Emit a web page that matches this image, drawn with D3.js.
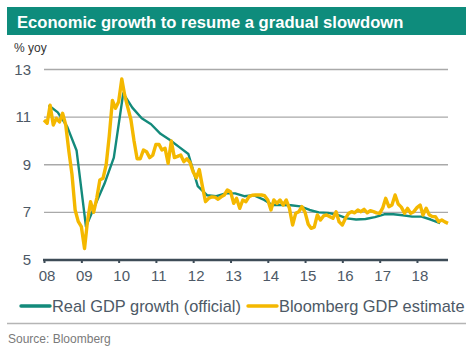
<!DOCTYPE html>
<html>
<head>
<meta charset="utf-8">
<script src="https://cdn.jsdelivr.net/npm/d3@7"></script>
<style>
  body { margin: 0; background: #fff; }
  svg { display: block; font-family: "Liberation Sans", Arial, sans-serif; }
</style>
</head>
<body>
<div id="chart"></div>
<script>
// official real GDP growth, quarterly, % yoy (2008Q1 .. 2018Q3)
const officialQuarters = [
  "2008Q1", "2008Q2", "2008Q3", "2008Q4", "2009Q1", "2009Q2", "2009Q3", "2009Q4",
  "2010Q1", "2010Q2", "2010Q3", "2010Q4", "2011Q1", "2011Q2", "2011Q3", "2011Q4",
  "2012Q1", "2012Q2", "2012Q3", "2012Q4", "2013Q1", "2013Q2", "2013Q3", "2013Q4",
  "2014Q1", "2014Q2", "2014Q3", "2014Q4", "2015Q1", "2015Q2", "2015Q3", "2015Q4",
  "2016Q1", "2016Q2", "2016Q3", "2016Q4", "2017Q1", "2017Q2", "2017Q3", "2017Q4",
  "2018Q1", "2018Q2", "2018Q3"
];
const officialGrowth = [
  11.5, 11.2, 10.6, 9.6, 6.4, 7.3, 8.2, 9.3,
  12.0, 11.4, 10.95, 10.7, 10.3, 10.05, 9.75, 9.45,
  8.1, 7.72, 7.68, 7.8, 7.8, 7.68, 7.72, 7.55,
  7.31, 7.31, 7.3, 7.25, 7.1, 7.0, 6.98, 6.9,
  6.75, 6.7, 6.72, 6.8, 6.92, 6.92, 6.88, 6.82,
  6.82, 6.7, 6.55
];

// Bloomberg monthly GDP estimate, % yoy, from Jan 2008
const estimateStart = [2008, 0];
const estimateGrowth = [
  10.88, 10.74, 11.5, 10.67, 10.95, 10.8, 11.16, 10.67, 9.55, 8.6, 7.1, 6.62,
  6.4, 5.48, 6.6, 7.45, 7.0, 7.6, 8.36, 8.43, 9.0, 10.2, 11.7, 11.37,
  11.65, 12.6, 11.93, 11.4, 10.9, 10.0, 9.25, 9.25, 9.62, 9.55, 9.3, 9.4,
  9.85, 9.85, 9.62, 9.69, 9.06, 10.0, 9.3, 9.35, 9.41, 9.13, 9.25, 9.1,
  8.7, 8.45, 8.8, 8.08, 7.45, 7.59, 7.65, 7.64, 7.55, 7.65, 7.73, 7.94,
  7.87, 7.38, 7.59, 7.17, 7.52, 7.45, 7.66, 7.72, 7.73, 7.73, 7.73, 7.7,
  7.52, 7.1, 7.52, 7.38, 7.52, 7.31, 7.52, 7.17, 6.47, 6.96, 7.03, 7.24,
  7.0, 6.5, 6.33, 6.38, 6.89, 6.68, 6.85, 6.89, 6.82, 6.75, 7.03, 6.6,
  6.47, 6.75, 6.95, 7.03, 6.98, 7.1, 7.03, 7.13, 6.98, 7.07, 7.03, 6.98,
  6.96, 7.2, 7.59, 7.24, 7.31, 7.73, 7.35, 7.22, 6.96, 7.17, 6.96, 7.03,
  7.2, 7.31, 6.89, 7.17, 6.9, 6.82, 6.82, 6.61, 6.68, 6.6, 6.54
];

const yearTicks = [2008, 2009, 2010, 2011, 2012, 2013, 2014, 2015, 2016, 2017, 2018];
const yTicks = [5, 7, 9, 11, 13];

const seriesNames = ["Real GDP growth (official)", "Bloomberg GDP estimate"];
const seriesColors = ["#138a7b", "#f4b800"];

const width = 474, height = 349;
const svg = d3.select("#chart").append("svg")
  .attr("width", width)
  .attr("height", height);

// title band
svg.append("rect")
  .attr("x", 7).attr("y", 7).attr("width", 459).attr("height", 28)
  .attr("fill", "#0e8c7c");
svg.append("text")
  .attr("x", 17).attr("y", 28)
  .attr("fill", "#fff")
  .style("font-size", "16.6px")
  .style("font-weight", "bold")
  .text("Economic growth to resume a gradual slowdown");

svg.append("text")
  .attr("x", 14).attr("y", 52)
  .attr("fill", "#333")
  .style("font-size", "12px")
  .text("% yoy");

const x = d3.scaleTime()
  .domain([new Date(2008, 0, 1), new Date(2018, 10, 1)])
  .range([44, 448]);
const y = d3.scaleLinear().domain([5, 13]).range([260, 69.5]);

// gridlines
svg.append("g")
  .selectAll("line")
  .data(yTicks.filter(d => d > 5))
  .join("line")
  .attr("x1", 44).attr("x2", 448)
  .attr("y1", d => y(d)).attr("y2", d => y(d))
  .attr("stroke", "#a9a9a9")
  .attr("stroke-width", 1.4);

// y labels
svg.append("g")
  .selectAll("text")
  .data(yTicks)
  .join("text")
  .attr("x", 31)
  .attr("y", d => y(d) + 5)
  .attr("text-anchor", "end")
  .attr("fill", "#4d5966")
  .style("font-size", "15px")
  .text(d => d);

// x axis
const xAxis = svg.append("g")
  .attr("transform", "translate(0,260)")
  .call(d3.axisBottom(x)
    .tickValues(yearTicks.map(yr => new Date(yr, 0, 1)))
    .tickSize(3)
    .tickSizeOuter(0)
    .tickFormat(d3.timeFormat("%y")));
xAxis.select(".domain")
  .attr("stroke", "#3e4c57")
  .attr("stroke-width", 2.6)
  .attr("d", "M43,0H448");
xAxis.selectAll(".tick line")
  .attr("stroke", "#3e4c57")
  .attr("stroke-width", 2);
xAxis.selectAll(".tick text")
  .attr("dx", 2.5)
  .attr("y", 10)
  .attr("fill", "#4d5966")
  .style("font-size", "15px")
  .style("font-family", "'Liberation Sans', Arial, sans-serif");

const officialData = officialQuarters.map((q, i) => {
  const yr = +q.slice(0, 4), qn = +q.slice(5);
  return { date: new Date(yr, (qn - 1) * 3 + 1, 15), value: officialGrowth[i] };
});
const estimateData = estimateGrowth.map((v, i) => ({
  date: new Date(estimateStart[0], estimateStart[1] + i, 1),
  value: v
}));

const line = d3.line()
  .x(d => x(d.date))
  .y(d => y(d.value))
  .curve(d3.curveLinear);

svg.append("path")
  .datum(officialData)
  .attr("fill", "none")
  .attr("stroke", seriesColors[0])
  .attr("stroke-width", 2.4)
  .attr("stroke-linejoin", "round")
  .attr("d", line);

svg.append("path")
  .datum(estimateData)
  .attr("fill", "none")
  .attr("stroke", seriesColors[1])
  .attr("stroke-width", 3.4)
  .attr("stroke-linejoin", "round")
  .attr("d", line);

// legend
const legendPos = [{ x1: 21, x2: 50, tx: 52 }, { x1: 248, x2: 277, tx: 279 }];
const legend = svg.append("g")
  .selectAll("g")
  .data(seriesNames)
  .join("g");
legend.append("line")
  .attr("x1", (d, i) => legendPos[i].x1)
  .attr("x2", (d, i) => legendPos[i].x2)
  .attr("y1", 306).attr("y2", 306)
  .attr("stroke", (d, i) => seriesColors[i])
  .attr("stroke-width", 3.4)
  .attr("stroke-linecap", "round");
legend.append("text")
  .attr("x", (d, i) => legendPos[i].tx)
  .attr("y", 311.5)
  .attr("fill", "#4d5966")
  .style("font-size", "16.4px")
  .text(d => d);

svg.append("line")
  .attr("x1", 7).attr("x2", 466)
  .attr("y1", 323.5).attr("y2", 323.5)
  .attr("stroke", "#b5b5b5")
  .attr("stroke-width", 1.5);

svg.append("text")
  .attr("x", 8).attr("y", 343)
  .attr("fill", "#7a7a7a")
  .style("font-size", "12px")
  .text("Source: Bloomberg");
</script>
</body>
</html>
